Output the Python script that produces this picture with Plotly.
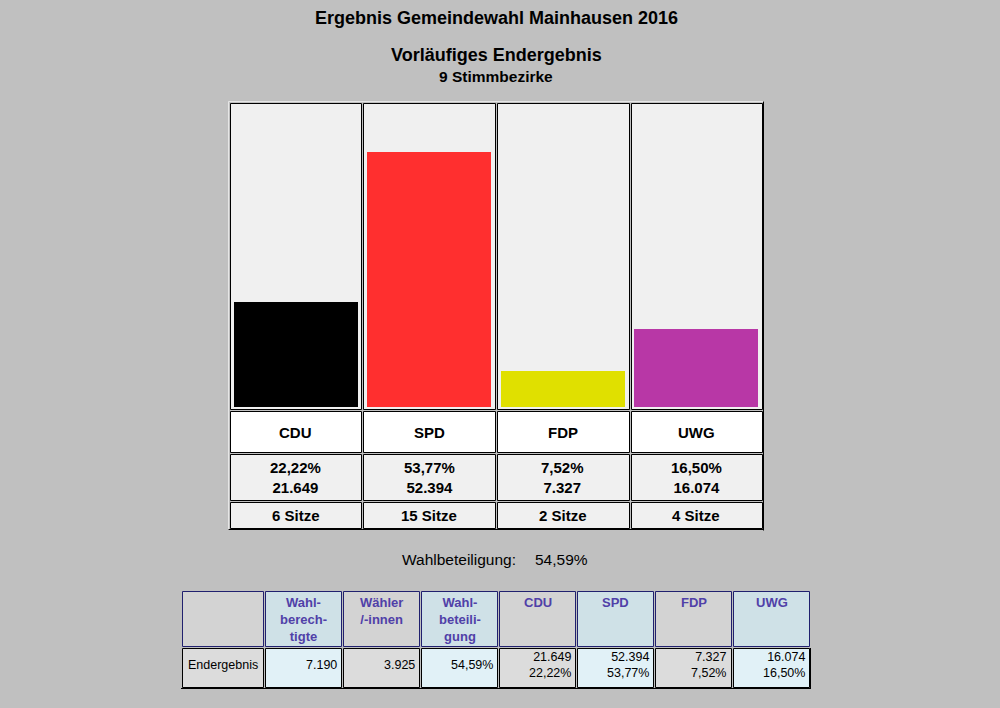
import plotly.graph_objects as go

# ---------------- data ----------------
parties = ["CDU", "SPD", "FDP", "UWG"]
percent = [22.22, 53.77, 7.52, 16.50]
votes = [21649, 52394, 7327, 16074]
seats = [6, 15, 2, 4]
bar_colors = ["#000000", "#FF2F2F", "#E0E000", "#B837A6"]

title = "Ergebnis Gemeindewahl Mainhausen 2016"
subtitle = "Vorläufiges Endergebnis"
districts = "9 Stimmbezirke"

eligible = 7190
voters = 3925
turnout = 54.59

summary_headers = ["", "Wahl-<br>berech-<br>tigte", "Wähler<br>/-innen", "Wahl-<br>beteili-<br>gung"] + parties
summary_row_label = "Endergebnis"
summary_colwidths = [83, 78, 78, 78, 78, 78, 78, 78]

# ---------------- helpers ----------------
W, H = 1000, 708
FONT = "Liberation Sans, Arial, sans-serif"
AX_L, AX_R = 229, 763
UNIT = (AX_R - AX_L) / 4.0


def PX(x):
    return x / W


def PY(y):
    return 1 - y / H


def CX(px):
    # pixel -> category axis coordinate
    return (px - AX_L) / UNIT - 0.5


def de_pct(v):
    return f"{v:.2f}".replace(".", ",") + "%"


def de_int(v):
    return f"{v:,}".replace(",", ".")


fig = go.Figure()

# bars
fig.add_trace(go.Bar(
    x=parties, y=percent, marker=dict(color=bar_colors, line=dict(width=0)),
    width=0.93, hoverinfo="skip", showlegend=False,
))

shapes = []
annotations = []

# party table cells (bar cells + 3 info rows)
rows = [(103, 409, "#F0F0F0"), (411, 452, "#FFFFFF"), (454, 500, "#F0F0F0"), (502, 528, "#F0F0F0")]
for i, _ in enumerate(parties):
    left = round(AX_L + i * UNIT) + 1.5
    right = round(AX_L + (i + 1) * UNIT) - 0.5
    for (top, bot, fill) in rows:
        shapes.append(dict(type="rect", xref="x", yref="paper", layer="below",
                           x0=CX(left), x1=CX(right), y0=PY(bot + 0.5), y1=PY(top + 0.5),
                           fillcolor=fill, line=dict(color="#000000", width=1)))

# outer table border (3D style)
shapes += [
    dict(type="line", xref="paper", yref="paper", x0=PX(228.5), x1=PX(764), y0=PY(101.5), y1=PY(101.5),
         line=dict(color="#E6E6E6", width=1)),
    dict(type="line", xref="paper", yref="paper", x0=PX(228.5), x1=PX(228.5), y0=PY(101.5), y1=PY(530),
         line=dict(color="#E6E6E6", width=1)),
    dict(type="line", xref="paper", yref="paper", x0=PX(763.5), x1=PX(763.5), y0=PY(101.5), y1=PY(530.5),
         line=dict(color="#000000", width=1)),
    dict(type="line", xref="paper", yref="paper", x0=PX(228.5), x1=PX(764), y0=PY(529.5), y1=PY(529.5),
         line=dict(color="#000000", width=1)),
]

bold15 = dict(family=FONT, size=15, color="#000000")
for i, p in enumerate(parties):
    annotations.append(dict(x=p, xref="x", y=PY(432), yref="paper", text=f"<b>{p}</b>",
                            showarrow=False, font=bold15, xanchor="center", yanchor="middle"))
    annotations.append(dict(x=p, xref="x", y=PY(477), yref="paper",
                            text=f"<b>{de_pct(percent[i])}<br>{de_int(votes[i])}</b>",
                            showarrow=False, font=bold15, xanchor="center", yanchor="middle"))
    annotations.append(dict(x=p, xref="x", y=PY(515), yref="paper", text=f"<b>{seats[i]} Sitze</b>",
                            showarrow=False, font=bold15, xanchor="center", yanchor="middle"))

# titles
annotations += [
    dict(x=PX(496), y=PY(18), xref="paper", yref="paper", text=f"<b>{title}</b>", showarrow=False,
         font=dict(family=FONT, size=18, color="#000000"), xanchor="center", yanchor="middle"),
    dict(x=PX(496), y=PY(55), xref="paper", yref="paper", text=f"<b>{subtitle}</b>", showarrow=False,
         font=dict(family=FONT, size=18, color="#000000"), xanchor="center", yanchor="middle"),
    dict(x=PX(495.5), y=PY(77), xref="paper", yref="paper", text=f"<b>{districts}</b>", showarrow=False,
         font=dict(family=FONT, size=15.5, color="#000000"), xanchor="center", yanchor="middle"),
    dict(x=PX(518), y=PY(559), xref="paper", yref="paper", text="Wahlbeteiligung:", showarrow=False,
         font=dict(family=FONT, size=15.5, color="#000000"), xanchor="right", yanchor="middle"),
    dict(x=PX(533), y=PY(559), xref="paper", yref="paper", text=de_pct(turnout), showarrow=False,
         font=dict(family=FONT, size=15.5, color="#000000"), xanchor="left", yanchor="middle"),
]

# ---------------- summary table (cells drawn as shapes, text as annotations) ----------------
grey_h, blue_h = "#D3D3D3", "#CFE1E7"
grey_c, blue_c = "#DCDCDC", "#E1F1F7"
cell_vals = [summary_row_label, de_int(eligible), de_int(voters), de_pct(turnout)] + \
            [f"{de_int(votes[i])}<br>{de_pct(percent[i])}" for i in range(4)]

tbl_left = 181
head_top, head_bot = 591, 646
data_top, data_bot = 648, 687
edges = [tbl_left]
for w in summary_colwidths:
    edges.append(edges[-1] + w)

for k in range(len(summary_colwidths)):
    x0, x1 = edges[k] + 1.5, edges[k + 1] - 0.5
    shapes.append(dict(type="rect", xref="paper", yref="paper", layer="below",
                       x0=PX(x0), x1=PX(x1), y0=PY(head_bot + 0.5), y1=PY(head_top + 0.5),
                       fillcolor=grey_h if k % 2 == 0 else blue_h,
                       line=dict(color="#20206E", width=1)))
    shapes.append(dict(type="rect", xref="paper", yref="paper", layer="below",
                       x0=PX(x0), x1=PX(x1), y0=PY(data_bot + 0.5), y1=PY(data_top + 0.5),
                       fillcolor=grey_c if k % 2 == 0 else blue_c,
                       line=dict(color="#000000", width=1)))
    if summary_headers[k]:
        annotations.append(dict(x=PX((x0 + x1) / 2), y=PY(593), xref="paper", yref="paper",
                                text=f"<b>{summary_headers[k]}</b>", showarrow=False,
                                font=dict(family=FONT, size=13, color="#5040A8"),
                                xanchor="center", yanchor="top", align="center"))
    if k == 0:
        annotations.append(dict(x=PX(x0 + 3), y=PY(665), xref="paper", yref="paper",
                                text=cell_vals[k], showarrow=False,
                                font=dict(family=FONT, size=12.5, color="#000000"),
                                xanchor="left", yanchor="middle", align="left"))
    else:
        annotations.append(dict(x=PX(x1 - 3), y=PY(665), xref="paper", yref="paper",
                                text=cell_vals[k], showarrow=False,
                                font=dict(family=FONT, size=12.5, color="#000000"),
                                xanchor="right", yanchor="middle", align="right"))

# darker bottom/right edge of the summary table
shapes += [
    dict(type="line", xref="paper", yref="paper", x0=PX(tbl_left), x1=PX(edges[-1] + 1),
         y0=PY(data_bot + 1.5), y1=PY(data_bot + 1.5), line=dict(color="#000000", width=1)),
    dict(type="line", xref="paper", yref="paper", x0=PX(edges[-1] + 0.5), x1=PX(edges[-1] + 0.5),
         y0=PY(data_top), y1=PY(data_bot + 2), line=dict(color="#000000", width=1)),
]

fig.update_layout(
    width=W, height=H, margin=dict(l=0, r=0, t=0, b=0),
    paper_bgcolor="#C0C0C0", plot_bgcolor="rgba(0,0,0,0)",
    xaxis=dict(domain=[PX(AX_L), PX(AX_R)], range=[-0.5, 3.5], visible=False, fixedrange=True),
    yaxis=dict(domain=[PY(407), PY(103)], range=[0, 64.14], visible=False, fixedrange=True),
    shapes=shapes, annotations=annotations, bargap=0, showlegend=False,
)

fig.write_html(
    "out.html",
    config={"displayModeBar": False, "staticPlot": True},
    post_script="document.body.style.margin='0px';document.body.style.overflow='hidden';"
                "document.body.style.background='#C0C0C0';",
)
